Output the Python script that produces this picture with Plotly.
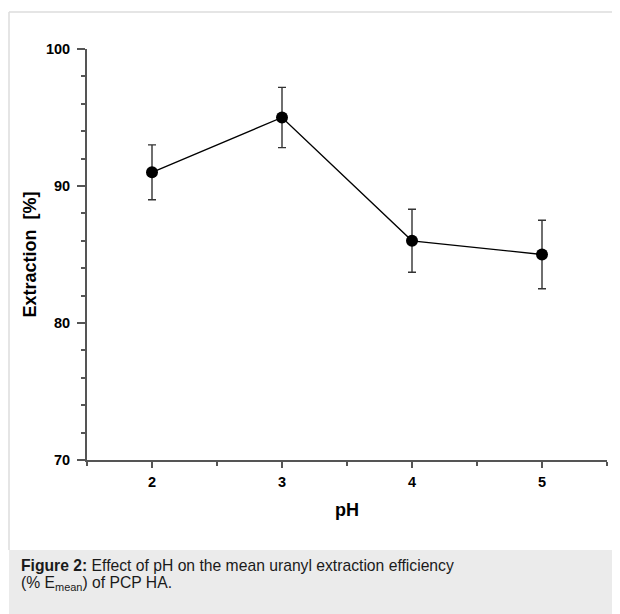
import plotly.graph_objects as go

ph = [2, 3, 4, 5]
extraction = [91.0, 95.0, 86.0, 85.0]
err_plus = [2.0, 2.2, 2.3, 2.5]
err_minus = [2.0, 2.2, 2.3, 2.5]
x_ticks = [2, 3, 4, 5]
x_minor = [1.5, 2.5, 3.5, 4.5, 5.5]
y_ticks = [70, 80, 90, 100]

# The page body has an 8px margin; work in page pixels and shift.
OFF = 8
W, H = 620 - OFF, 614 - OFF
L, R, T, B = 87 - OFF, 607 - OFF, 49 - OFF, 460 - OFF  # plot area (figure px)

def px(x):
    return (x - OFF - L) / (R - L)

def py(y):
    return (B - (y - OFF)) / (B - T)

FONT = "Liberation Sans, Arial, sans-serif"
AX = "#555555"

fig = go.Figure()
fig.add_trace(go.Scatter(
    x=ph, y=extraction, mode="lines+markers",
    line=dict(color="black", width=1.3),
    marker=dict(color="black", size=12),
    error_y=dict(type="data", array=err_plus, arrayminus=err_minus,
                 color="#333333", thickness=1.4, width=4),
    showlegend=False, cliponaxis=False,
))

fig.update_xaxes(
    range=[1.5, 5.5], tickvals=x_ticks, ticktext=["<b>%d</b>" % v for v in x_ticks],
    ticks="outside", ticklen=6, tickwidth=1.5, tickcolor=AX,
    showline=True, linecolor=AX, linewidth=2, showgrid=False, zeroline=False,
    minor=dict(tickvals=x_minor, ticks="outside", ticklen=4, tickwidth=1.5, tickcolor=AX),
    tickfont=dict(family=FONT, size=14.5, color="black"),
    ticklabelstandoff=2,
    title=dict(text="<b>pH</b>", font=dict(family=FONT, size=18, color="black"), standoff=14),
)
fig.update_yaxes(
    range=[70, 100], tickvals=y_ticks, ticktext=["<b>%d</b>" % v for v in y_ticks],
    ticks="outside", ticklen=8, tickwidth=1.5, tickcolor=AX,
    showline=True, linecolor=AX, linewidth=2, showgrid=False, zeroline=False,
    minor=dict(dtick=2, ticks="outside", ticklen=4, tickwidth=1.5, tickcolor=AX),
    tickfont=dict(family=FONT, size=14.5, color="black"),
    ticklabelstandoff=4,
    title=dict(text="<b>Extraction  [%]</b>", font=dict(family=FONT, size=18, color="black"), standoff=5),
)

shapes = [
    dict(type="rect", xref="paper", yref="paper", x0=px(9), x1=px(620), y0=py(550), y1=py(614),
         fillcolor="#ebebeb", line=dict(width=0), layer="below"),
    dict(type="line", xref="paper", yref="paper", x0=px(9), x1=px(9), y0=py(12), y1=py(550),
         line=dict(color="#dcdcdc", width=1.5)),
    dict(type="line", xref="paper", yref="paper", x0=px(9), x1=px(620), y0=py(12), y1=py(12),
         line=dict(color="#dcdcdc", width=1.5)),
]

cap_font = dict(family=FONT, size=15.7, color="#1a1a1a")
annotations = [
    dict(xref="paper", yref="paper", x=px(20), y=py(556), xanchor="left", yanchor="top",
         text="<b>Figure 2:</b> Effect of pH on the mean uranyl extraction efficiency",
         showarrow=False, font=cap_font, borderpad=0),
    dict(xref="paper", yref="paper", x=px(20), y=py(573), xanchor="left", yanchor="top",
         text="(% E<sub>mean</sub>) of PCP HA.",
         showarrow=False, font=cap_font, borderpad=0),
]

fig.update_layout(
    width=W, height=H, margin=dict(l=L, r=W - R, t=T, b=H - B),
    paper_bgcolor="white", plot_bgcolor="white",
    shapes=shapes, annotations=annotations,
)

fig.write_html("out.html")
